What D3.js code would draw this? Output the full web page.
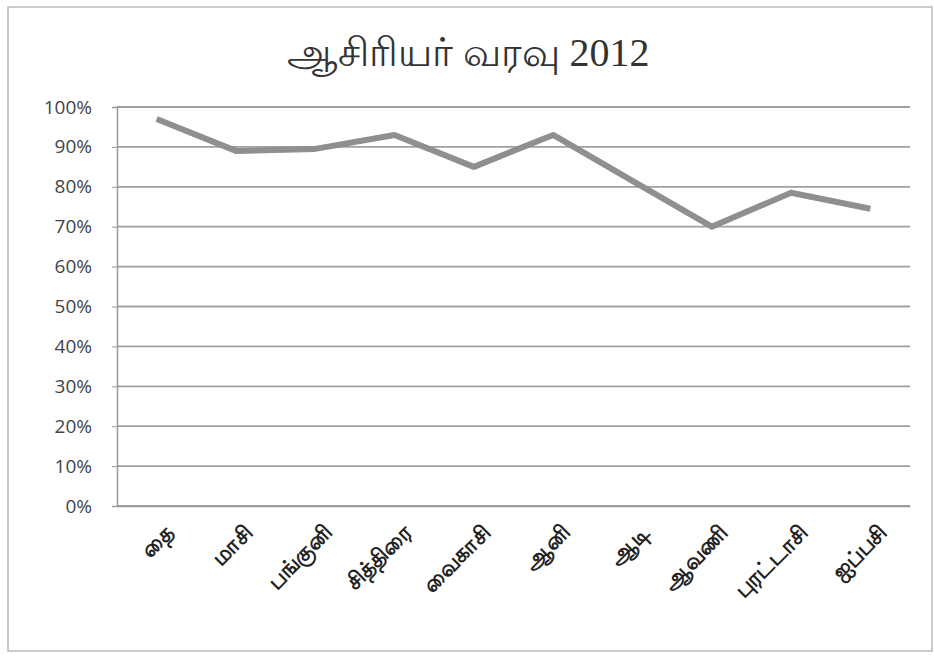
<!DOCTYPE html>
<html>
<head>
<meta charset="utf-8">
<script src="https://cdn.jsdelivr.net/npm/d3@7"></script>
<style>
  body { margin: 0; background: #fff; }
  svg { display: block; }
</style>
</head>
<body>
<svg id="chart" width="934" height="656"></svg>
<script>
// months of the Tamil calendar, attendance percent
const months = ["தை", "மாசி", "பங்குனி", "சித்திரை", "வைகாசி", "ஆனி", "ஆடி", "ஆவணி", "புரட்டாசி", "ஐப்பசி"];
const attendance = [97, 89, 89.5, 93, 85, 93, 81.5, 70, 78.5, 74.5];
const yTicks = [0, 10, 20, 30, 40, 50, 60, 70, 80, 90, 100];

const svg = d3.select("#chart");
const plotL = 117, plotR = 910, plotT = 107, plotB = 506;

// outer frame
svg.append("rect")
  .attr("x", 8).attr("y", 7).attr("width", 924).attr("height", 644)
  .attr("fill", "none").attr("stroke", "#bbb").attr("stroke-width", 1.5);

svg.append("text")
  .attr("x", 468).attr("y", 66)
  .attr("text-anchor", "middle")
  .style("font-family", "'Liberation Serif', serif")
  .style("font-size", "40px")
  .style("fill", "#333")
  .text("ஆசிரியர் வரவு 2012");

const x = d3.scaleBand().domain(months).range([plotL, plotR]);
const y = d3.scaleLinear().domain([0, 100]).range([plotB, plotT]);

// gridlines
svg.append("g").selectAll("line")
  .data(yTicks)
  .enter().append("line")
  .attr("x1", plotL).attr("x2", plotR)
  .attr("y1", d => y(d)).attr("y2", d => y(d))
  .attr("stroke", "#a0a0a0")
  .attr("stroke-width", 1.8);

// y axis
const yAxis = svg.append("g")
  .attr("transform", `translate(${plotL},0)`)
  .call(d3.axisLeft(y).tickValues(yTicks).tickFormat(d => d + "%").tickSize(5).tickPadding(20));
yAxis.select(".domain").attr("stroke", "#999").attr("stroke-width", 1.5);
yAxis.selectAll(".tick line").attr("stroke", "#999");
yAxis.selectAll("text")
  .style("font-family", "'Open Sans', sans-serif")
  .style("font-size", "19px")
  .style("fill", "#444");

// x axis line only, labels drawn rotated below
const xAxis = svg.append("g")
  .attr("transform", `translate(0,${plotB})`)
  .call(d3.axisBottom(x).tickSize(0).tickFormat(""));
xAxis.select(".domain").attr("stroke", "#999").attr("stroke-width", 1.5);

svg.append("g").selectAll("text")
  .data(months)
  .enter().append("text")
  .attr("transform", d => `translate(${x(d) + x.bandwidth() / 2 + 18},${plotB + 28}) rotate(-45)`)
  .attr("text-anchor", "end")
  .style("font-family", "'Noto Sans', sans-serif")
  .style("font-weight", "bold")
  .style("font-size", "22px")
  .style("fill", "#222")
  .text(d => d);

// attendance line
const line = d3.line()
  .x((d, i) => x(months[i]) + x.bandwidth() / 2)
  .y(d => y(d));

svg.append("path")
  .datum(attendance)
  .attr("d", line)
  .attr("fill", "none")
  .attr("stroke", "#8f8f8f")
  .attr("stroke-width", 6)
  .attr("stroke-linejoin", "round");
</script>
</body>
</html>
